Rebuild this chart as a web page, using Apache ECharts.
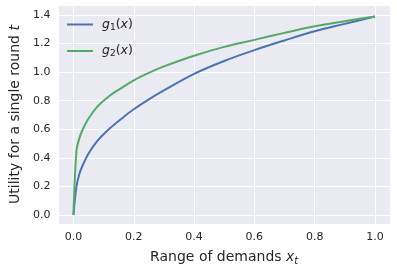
<!DOCTYPE html>
<html>
<head>
<meta charset="utf-8">
<script src="https://cdn.jsdelivr.net/npm/echarts@6/dist/echarts.min.js"></script>
<style>html,body{margin:0;padding:0;background:#fff;}#c{width:397px;height:273px;}</style>
</head>
<body>
<div id="c"></div>
<script>
const xs = [0, 0.01, 0.02, 0.03, 0.05, 0.08, 0.12, 0.16, 0.2, 0.25, 0.3, 0.4, 0.5, 0.6, 0.7, 0.8, 0.9, 1.0];
const g1 = [0, 0.20, 0.29, 0.345, 0.43, 0.52, 0.605, 0.675, 0.74, 0.81, 0.872, 0.988, 1.078, 1.154, 1.222, 1.286, 1.338, 1.39];
const g2 = [0, 0.45, 0.54, 0.595, 0.675, 0.76, 0.835, 0.89, 0.943, 0.995, 1.04, 1.115, 1.177, 1.226, 1.275, 1.321, 1.357, 1.39];
const seriesNames = ['g1', 'g2'];
const xRange = [-0.05, 1.05];
const yRange = [-0.063, 1.47];

const font = 'DejaVu Sans';
const txt = '#262626';
const chart = echarts.init(document.getElementById('c'), null, {renderer: 'canvas'});
const pair = (a) => xs.map((x, i) => [x, a[i]]);
const legendRich = {
  i: {fontFamily: font, fontStyle: 'italic', fontSize: 12.5, color: txt},
  s: {fontFamily: font, fontSize: 9, color: txt, verticalAlign: 'bottom', padding: [6, 0, 0, 0]},
  n: {fontFamily: font, fontSize: 12.5, color: txt}
};
chart.setOption({
  animation: false,
  grid: {left: 55, top: 5, width: 335, height: 219, show: true, backgroundColor: '#EAEAF2', borderWidth: 0, containLabel: false},
  legend: {
    left: 62, top: 13, orient: 'vertical', itemWidth: 26, itemHeight: 10, itemGap: 12.5,
    icon: 'path://M0,4L26,4L26,6L0,6Z',
    data: seriesNames,
    formatter: function (n) { return '{i|g}{s|' + n.slice(1) + '}{n|(}{i|x}{n|)}'; },
    textStyle: {rich: legendRich, padding: [0, 0, 0, 4]}
  },
  xAxis: {
    type: 'value', min: xRange[0], max: xRange[1], minInterval: 0.2, maxInterval: 0.2,
    axisLine: {show: false}, axisTick: {show: false},
    splitLine: {show: true, lineStyle: {color: '#ffffff', width: 1}},
    axisLabel: {showMinLabel: false, showMaxLabel: false, margin: 8, fontFamily: font, fontSize: 11, color: txt,
      formatter: (v) => v.toFixed(1)},
    name: '{n|Range of demands }{i|x}{s|t}', nameLocation: 'middle', nameGap: 25,
    nameTextStyle: {rich: {
      n: {fontFamily: font, fontSize: 14, color: txt},
      i: {fontFamily: font, fontStyle: 'italic', fontSize: 14, color: txt},
      s: {fontFamily: font, fontStyle: 'italic', fontSize: 10, color: txt, verticalAlign: 'bottom', padding: [7, 0, 0, 0]}
    }}
  },
  yAxis: {
    type: 'value', min: yRange[0], max: yRange[1], minInterval: 0.2, maxInterval: 0.2,
    axisLine: {show: false}, axisTick: {show: false},
    splitLine: {show: true, lineStyle: {color: '#ffffff', width: 1}},
    axisLabel: {showMinLabel: false, showMaxLabel: false, margin: 8, fontFamily: font, fontSize: 11, color: txt,
      formatter: (v) => v.toFixed(1)},
    name: '{n|Utility for a single round }{i|t}', nameLocation: 'middle', nameGap: 34, nameRotate: 90,
    nameTextStyle: {rich: {
      n: {fontFamily: font, fontSize: 14, color: txt},
      i: {fontFamily: font, fontStyle: 'italic', fontSize: 14, color: txt}
    }}
  },
  series: [
    {name: 'g1', type: 'line', data: pair(g1), showSymbol: false, symbol: 'none', smooth: 0.35,
      lineStyle: {color: '#4C72B0', width: 2}, itemStyle: {color: '#4C72B0'}},
    {name: 'g2', type: 'line', data: pair(g2), showSymbol: false, symbol: 'none', smooth: 0.35,
      lineStyle: {color: '#55A868', width: 2}, itemStyle: {color: '#55A868'}}
  ]
});
</script>
</body>
</html>
